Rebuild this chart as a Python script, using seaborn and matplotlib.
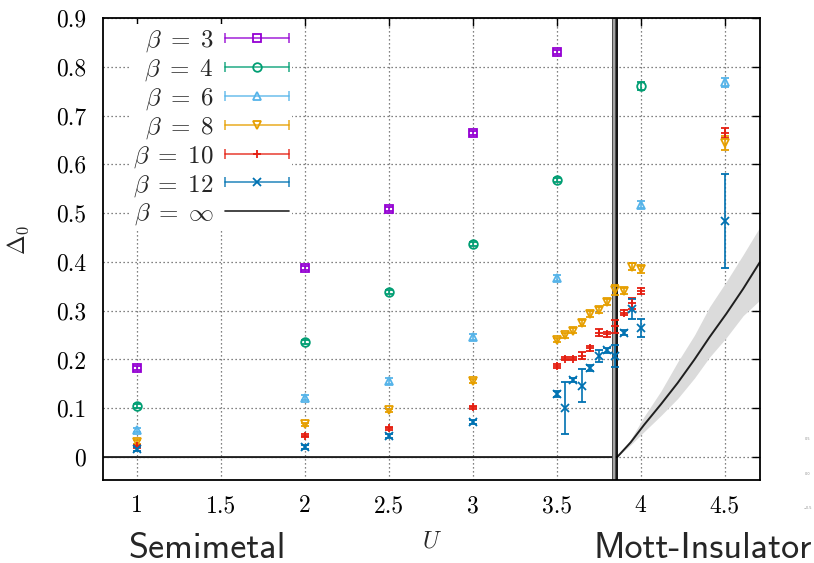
import matplotlib
matplotlib.use("Agg")
import matplotlib.pyplot as plt
import seaborn as sns
import numpy as np
import pandas as pd
from matplotlib.lines import Line2D
from matplotlib.legend_handler import HandlerBase

# ---------------- data ----------------
U_b3 = [1, 2, 2.5, 3, 3.5]
D_b3 = [0.183, 0.388, 0.509, 0.664, 0.830]
E_b3 = [0.004, 0.004, 0.004, 0.004, 0.004]

U_b4 = [1, 2, 2.5, 3, 3.5, 4]
D_b4 = [0.104, 0.236, 0.338, 0.437, 0.568, 0.760]
E_b4 = [0.004, 0.004, 0.004, 0.004, 0.004, 0.008]

U_b6 = [1, 2, 2.5, 3, 3.5, 4, 4.5]
D_b6 = [0.056, 0.122, 0.156, 0.246, 0.367, 0.517, 0.768]
E_b6 = [0.004, 0.005, 0.006, 0.006, 0.006, 0.007, 0.010]

U_fine = [1, 2, 2.5, 3, 3.5, 3.55, 3.6, 3.65, 3.7, 3.75, 3.8, 3.85, 3.9, 3.95, 4.0, 4.5]
D_b8 = [0.031, 0.067, 0.096, 0.156, 0.240, 0.250, 0.259, 0.274, 0.294, 0.301,
        0.317, 0.342, 0.340, 0.390, 0.385, 0.644]
E_b8 = [0.004, 0.003, 0.003, 0.004, 0.005, 0.005, 0.005, 0.006, 0.006, 0.006,
        0.006, 0.010, 0.006, 0.007, 0.007, 0.015]
D_b10 = [0.022, 0.044, 0.059, 0.102, 0.187, 0.202, 0.202, 0.208, 0.223, 0.255,
         0.252, 0.268, 0.296, 0.315, 0.341, 0.665]
E_b10 = [0.003, 0.003, 0.003, 0.003, 0.004, 0.004, 0.004, 0.007, 0.005, 0.007,
         0.005, 0.013, 0.005, 0.012, 0.006, 0.010]
D_b12 = [0.016, 0.020, 0.043, 0.072, 0.129, 0.100, 0.158, 0.146, 0.183, 0.207,
         0.219, 0.207, 0.255, 0.303, 0.264, 0.484]
E_b12 = [0.004, 0.004, 0.004, 0.004, 0.006, 0.053, 0.004, 0.034, 0.006, 0.012,
         0.005, 0.022, 0.005, 0.020, 0.018, 0.097]

# beta = infinity extrapolation and its uncertainty band
U_inf = [0.8, 3.86, 3.94, 4.02, 4.12, 4.22, 4.32, 4.41, 4.51, 4.61, 4.71]
D_inf = [0.0, 0.0, 0.030, 0.066, 0.108, 0.152, 0.200, 0.246, 0.294, 0.345, 0.400]
D_inf_hi = [0.0, 0.0, 0.036, 0.083, 0.135, 0.195, 0.250, 0.308, 0.360, 0.415, 0.472]
D_inf_lo = [0.0, 0.0, 0.025, 0.052, 0.085, 0.120, 0.162, 0.205, 0.245, 0.290, 0.322]

U_c = 3.861
U_c_band = (3.827, 3.848)

labels = [r"$\enspace\beta \;=\; 3$", r"$\enspace\beta \;=\; 4$", r"$\enspace\beta \;=\; 6$",
          r"$\enspace\beta \;=\; 8$", r"$\beta \;=\; 10$", r"$\beta \;=\; 12$",
          r"$\beta \;=\; \infty$"]
colors = ["#9400d3", "#009e73", "#56b4e9", "#e69f00", "#e51e10", "#0072b2"]
markers = ["s", "o", "^", "v", "+", "x"]

x_ticks = [1, 1.5, 2, 2.5, 3, 3.5, 4, 4.5]
x_ticklabels = ["1", "1.5", "2", "2.5", "3", "3.5", "4", "4.5"]
y_ticks = [0, 0.1, 0.2, 0.3, 0.4, 0.5, 0.6, 0.7, 0.8, 0.9]
y_ticklabels = ["0", "0.1", "0.2", "0.3", "0.4", "0.5", "0.6", "0.7", "0.8", "0.9"]

series = [
    (U_b3, D_b3, E_b3),
    (U_b4, D_b4, E_b4),
    (U_b6, D_b6, E_b6),
    (U_fine, D_b8, E_b8),
    (U_fine, D_b10, E_b10),
    (U_fine, D_b12, E_b12),
]

# ---------------- style ----------------
sns.set_theme(style="white")
plt.rcParams["mathtext.fontset"] = "cm"
plt.rcParams["font.family"] = ["DejaVu Sans"]
plt.rcParams["axes.formatter.use_mathtext"] = True

fig = plt.figure(figsize=(8.14, 5.63), dpi=100)
ax = fig.add_axes([103 / 814, 83 / 563, 657 / 814, 462 / 563])

# band + curve for beta = infinity
ax.fill_between(U_inf, D_inf_lo, D_inf_hi, color="0.86", lw=0, zorder=1)
df_inf = pd.DataFrame({"U": U_inf, "D": D_inf})
sns.lineplot(data=df_inf, x="U", y="D", ax=ax, color="0.12", lw=1.4,
             estimator=None, sort=False, legend=False, zorder=2)

# critical U
ax.axvspan(U_c_band[0], U_c_band[1], facecolor="0.65", edgecolor="0.3", lw=0.7, zorder=2)
ax.axvline(U_c, color="black", lw=1.3, zorder=2)

for (u, d, e), c, m in zip(series, colors, markers):
    ax.errorbar(u, d, yerr=e, fmt=m, color=c, mfc="none", mec=c, ms=6.2, mew=1.3,
                capsize=3.2, elinewidth=1.2, capthick=1.2, ls="none", zorder=3)

ax.set_xlim(0.8, 4.71)
ax.set_ylim(-0.047, 0.9)
ax.set_xticks(x_ticks)
ax.set_xticklabels(x_ticklabels, fontfamily="cmr10", fontsize=17)
ax.set_yticks(y_ticks)
ax.set_yticklabels(y_ticklabels, fontfamily="cmr10", fontsize=17)
ax.tick_params(direction="in", length=6, width=1.0, top=True, right=True,
               colors="black", labelcolor="black")
ax.tick_params(axis="x", pad=11)
ax.tick_params(axis="y", pad=12)
ax.grid(True, color="0.35", linestyle=(0, (1, 2.2)), lw=0.9)
for s in ax.spines.values():
    s.set_color("black")
    s.set_linewidth(1.3)

ax.set_xlabel(r"$U$", fontsize=17)
ax.xaxis.set_label_coords(0.5, -0.105)
ax.set_ylabel(r"$\mathit{\Delta}_0$", fontsize=17)
ax.yaxis.set_label_coords(-0.11, 0.52)


# ---------------- legend ----------------
class CapHandler(HandlerBase):
    def create_artists(self, legend, orig, xd, yd, w, h, fs, trans):
        y = h / 2 - yd
        x0, x1 = -xd, w - xd
        c = orig.get_color()
        ln = Line2D([x0, x1], [y, y], color=c, lw=1.2, alpha=0.8)
        caps = Line2D([x0, x1], [y, y], ls="none", marker="|", ms=7, mew=1.2,
                      color=c, alpha=0.8)
        mk = Line2D([(x0 + x1) / 2], [y], ls="none", marker=orig.get_marker(),
                    ms=6.2, mew=1.3, mfc="none", mec=c)
        for a in (ln, caps, mk):
            a.set_transform(trans)
        return [ln, caps, mk]


handles = [Line2D([], [], color=c, marker=m) for c, m in zip(colors, markers)]
handles.append(Line2D([], [], color="0.15", lw=1.2))
hmap = {h: CapHandler() for h in handles[:6]}
leg = ax.legend(handles, labels, handler_map=hmap, loc="upper left",
                bbox_to_anchor=(0.04, 0.987), markerfirst=False, handlelength=2.55,
                fontsize=18, labelspacing=0.1, frameon=True, framealpha=1,
                edgecolor="none", facecolor="white", fancybox=False,
                borderpad=0.15, handletextpad=0.45, borderaxespad=0)
leg.set_zorder(5)

# ---------------- annotations ----------------
fig.text(128 / 814, 1 - 548 / 563, "Semimetal", fontfamily="cmss10", fontsize=26,
         ha="left", va="center")
fig.text(812 / 814, 1 - 548 / 563, "Mott-Insulator", fontfamily="cmss10", fontsize=26,
         ha="right", va="center")
for yy, t in [(439, "0.5"), (474, "0.0"), (508, "\u22120.5")]:
    fig.text(808 / 814, 1 - yy / 563, t, fontsize=2.5, color="0.55",
             ha="center", va="center")

fig.savefig("out.png", dpi=100)
